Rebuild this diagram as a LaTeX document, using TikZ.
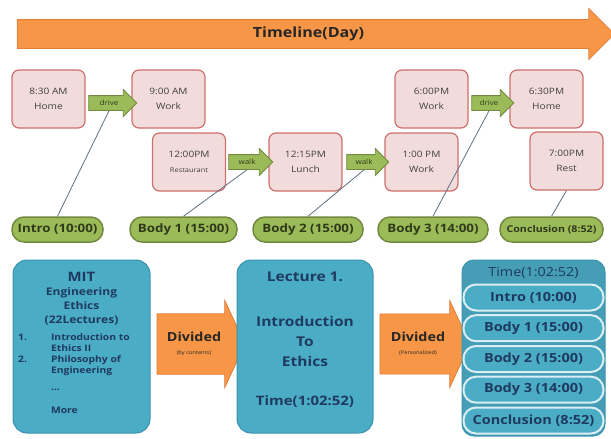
\documentclass[tikz,border=0pt]{standalone}
\usepackage{fontspec}
\setmainfont{Open Sans}[FakeStretch=1.15]
\usetikzlibrary{shapes.arrows}

\definecolor{tlorange}{HTML}{F79646}
\definecolor{tlline}{HTML}{E0803A}
\definecolor{evfill}{HTML}{F2DCDB}
\definecolor{evline}{HTML}{CD6F6C}
\definecolor{evtext}{HTML}{404040}
\definecolor{grfill}{HTML}{9BBB59}
\definecolor{grline}{HTML}{71893F}
\definecolor{grtext}{HTML}{2F3A1A}
\definecolor{blfill}{HTML}{4BACC6}
\definecolor{blline}{HTML}{3A93AD}
\definecolor{navy}{HTML}{1F3A5F}
\definecolor{linkgray}{HTML}{5F6F80}

\tikzset{
  timeline/.style={single arrow, draw=tlline, fill=tlorange, line width=0.8pt,
    single arrow head extend=11pt, minimum height=597pt, inner ysep=7pt,
    text=black!85, font=\bfseries\fontsize{14}{17}\selectfont},
  event/.style={draw=evline, fill=evfill, rounded corners=7pt, line width=1.2pt,
    minimum width=73pt, minimum height=58pt, align=center, text=evtext,
    font=\fontsize{8.8}{15}\selectfont},
  move/.style={single arrow, draw=grline, fill=grfill, line width=0.8pt,
    single arrow head extend=6pt, inner ysep=4pt, inner xsep=1pt,
    text height=5pt, text depth=1pt, text=grtext, font=\fontsize{7}{9}\selectfont},
  part/.style={draw=grline, fill=grfill, rounded corners=12pt, line width=1.5pt,
    minimum height=25pt, inner xsep=2pt, text=grtext, font=\bfseries\fontsize{11.6}{14}\selectfont},
  link/.style={draw=linkgray, line width=0.8pt},
  course/.style={draw=blline, fill=blfill, rounded corners=14pt, line width=1pt,
    minimum width=137pt, minimum height=173pt},
  divide/.style={single arrow, draw=tlline, fill=tlorange, line width=0.8pt,
    single arrow head extend=13.5pt, single arrow tip angle=130, minimum height=88pt,
    inner ysep=18pt, align=center, text=black!85, font=\bfseries\fontsize{12.5}{13}\selectfont},
  slot/.style={draw=white!80!blfill, fill=blfill, rounded corners=12.5pt, line width=2pt,
    minimum width=140pt, minimum height=26pt, inner xsep=2pt, text=navy,
    font=\bfseries\fontsize{12.6}{15}\selectfont},
}

\begin{document}
\begin{tikzpicture}[x=1pt,y=-1pt]
\useasboundingbox (0,0) rectangle (611,439);

\node[timeline] (tl) at (308.5,34) {Timeline(Day)};

% one day
\node[event] (home1) at (48.5,99) {8:30 AM\\Home};
\node[event] (work1) at (168.5,99) {9:00 AM\\Work};
\node[event] (work2) at (431.5,99) {6:00PM\\Work};
\node[event] (home2) at (546.5,99) {6:30PM\\Home};
\node[event] (resta) at (189,162) {12:00PM\\{\fontsize{6.5}{9}\selectfont Restaurant}};
\node[event] (lunch) at (305.5,162) {12:15PM\\Lunch};
\node[event] (work3) at (421.5,162) {1:00 PM\\Work};
\node[event] (rest) at (566.5,161) {7:00PM\\Rest};

\node[move, minimum height=48pt] (drive1) at (109,103) {drive};
\node[move, minimum height=42pt] (drive2) at (489,103) {drive};
\node[move, minimum height=44pt] (walk1) at (247,162) {walk};
\node[move, minimum height=42pt] (walk2) at (364,162) {walk};

% parts of the lecture
\node[part, minimum width=91pt] (intro) at (57.5,229.5) {Intro (10:00)};
\node[part, minimum width=107pt] (body1) at (183.5,229.5) {Body 1 (15:00)};
\node[part, minimum width=110pt] (body2) at (308,229.5) {Body 2 (15:00)};
\node[part, minimum width=110pt] (body3) at (433,229.5) {Body 3 (14:00)};
\node[part, minimum width=103pt, font=\bfseries\fontsize{9.3}{11}\selectfont] (concl) at (551.5,229.5) {Conclusion (8:52)};

\draw[link] (intro.north) -- (drive1.south);
\draw[link] (body1.north) -- (walk1.south);
\draw[link] (body2.north) -- (walk2.south);
\draw[link] (body3.north) -- (drive2.south);
\draw[link] (concl.north) -- (rest.south);

% course -> lecture -> schedule
\node[course] (mit) at (81.5,346.5) {};
\node[text=navy, align=center, font=\bfseries\fontsize{10.5}{14}\selectfont] (mittitle) at (81.5,299)
  {{\fontsize{13}{15}\selectfont MIT}\\Engineering\\Ethics\\(22Lectures)};
\node[text=navy, anchor=north west, inner sep=0pt, font=\bfseries\fontsize{9}{11}\selectfont] (mitlist) at (18,333)
  {\begin{tabular}{@{}l@{\hspace{24pt}}l@{}}
   1. & Introduction to\\
      & Ethics II\\
   2. & Philosophy of\\
      & Engineering\\[6pt]
      & ...\\[12pt]
      & More
   \end{tabular}};

\node[divide] (div1) at (194,344) {Divided\\{\mdseries\fontsize{5}{6}\selectfont (by contents)}};

\node[course, minimum width=136pt] (lect) at (305,346.5) {};
\node[text=navy, font=\bfseries\fontsize{13.5}{16}\selectfont] (lecttitle) at (305,277) {Lecture 1.};
\node[text=navy, align=center, font=\bfseries\fontsize{13.5}{20}\selectfont] (lecttopic) at (305,341)
  {Introduction\\To\\Ethics};
\node[text=navy, font=\bfseries\fontsize{13}{16}\selectfont] (lecttime) at (305,402) {Time(1:02:52)};

\node[divide, minimum height=90pt] (div2) at (418,344) {Divided\\{\mdseries\fontsize{5}{6}\selectfont (Personalized)}};

\node[course, rounded corners=12pt, fill=blfill!92!black, minimum width=143pt, minimum height=176pt] (plan) at (533.5,348) {};
\node[text=navy, font=\fontsize{12.5}{14}\selectfont] (plantime) at (533.5,273) {Time(1:02:52)};
\node[slot] (s1) at (533.5,297.5) {Intro (10:00)};
\node[slot] (s2) at (533.5,328.2) {Body 1 (15:00)};
\node[slot] (s3) at (533.5,359) {Body 2 (15:00)};
\node[slot] (s4) at (533.5,389.7) {Body 3 (14:00)};
\node[slot] (s5) at (533.5,420.5) {Conclusion (8:52)};
\end{tikzpicture}
\end{document}
